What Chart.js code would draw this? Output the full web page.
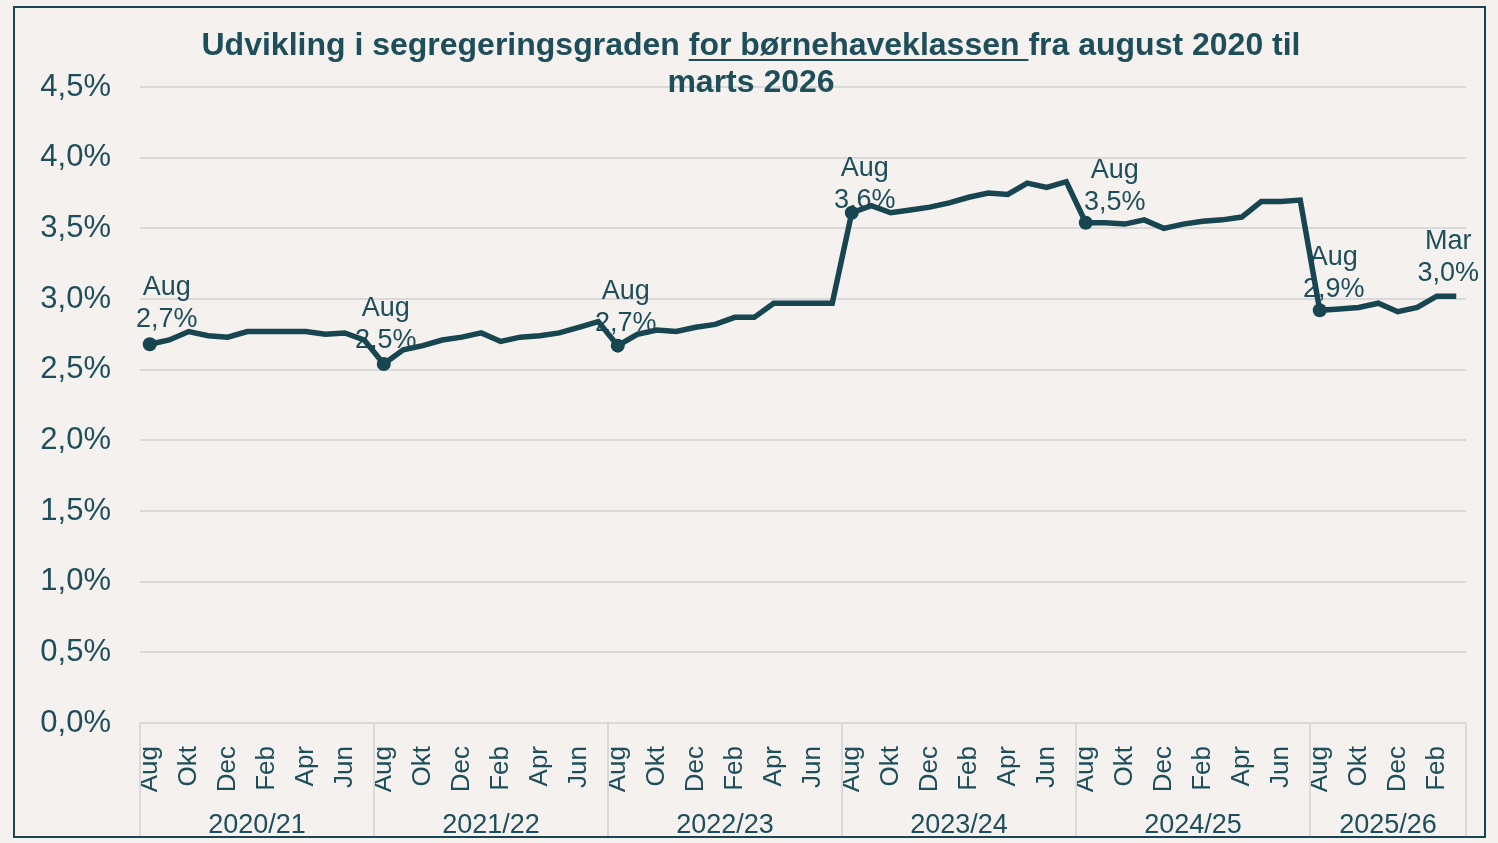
<!DOCTYPE html>
<html lang="da">
<head>
<meta charset="utf-8">
<title>Segregeringsgrad børnehaveklassen</title>
<script src="https://cdn.jsdelivr.net/npm/chart.js@4.4.1/dist/chart.umd.min.js"></script>
<style>
html, body { margin: 0; padding: 0; background: #f4f1ee; }
#wrap { position: relative; width: 1498px; height: 843px; }
#frame { position: absolute; left: 13px; top: 6px; width: 1473px; height: 832px; border: 2px solid #1a4652; box-sizing: border-box; pointer-events: none; }
#title { position: absolute; left: 0; top: 26px; width: 1502px; text-align: center; font: bold 32px "Liberation Sans", Arial, sans-serif; color: #1d4e5a; line-height: 37px; }
#title u { text-decoration-thickness: 2px; text-underline-offset: 4px; }
canvas { position: absolute; left: 0; top: 0; }
</style>
</head>
<body>
<div id="wrap">
  <canvas id="myChart" width="1498" height="843"></canvas>
  <div id="title">Udvikling i segregeringsgraden <u>for børnehaveklassen </u>fra august 2020 til<br>marts 2026</div>
  <div id="frame"></div>
</div>
<script>
// months shown on the axis (every other one gets a label)
const monthNames = ["Aug", "Sep", "Okt", "Nov", "Dec", "Jan", "Feb", "Mar", "Apr", "Maj", "Jun", "Jul"];
const schoolYears = ["2020/21", "2021/22", "2022/23", "2023/24", "2024/25", "2025/26"];
const monthsPerYear = [12, 12, 12, 12, 12, 8];

// segregeringsgrad in percent, Aug 2020 - Mar 2026
const rate2020 = [2.68, 2.71, 2.77, 2.74, 2.73, 2.77, 2.77, 2.77, 2.77, 2.75, 2.76, 2.71];
const rate2021 = [2.54, 2.64, 2.67, 2.71, 2.73, 2.76, 2.70, 2.73, 2.74, 2.76, 2.80, 2.84];
const rate2022 = [2.67, 2.75, 2.78, 2.77, 2.80, 2.82, 2.87, 2.87, 2.97, 2.97, 2.97, 2.97];
const rate2023 = [3.61, 3.66, 3.61, 3.63, 3.65, 3.68, 3.72, 3.75, 3.74, 3.82, 3.79, 3.83];
const rate2024 = [3.54, 3.54, 3.53, 3.56, 3.50, 3.53, 3.55, 3.56, 3.58, 3.69, 3.69, 3.70];
const rate2025 = [2.92, 2.93, 2.94, 2.97, 2.91, 2.94, 3.02, 3.02];

const yTicks = [0, 0.5, 1, 1.5, 2, 2.5, 3, 3.5, 4, 4.5];

// points that get a marker + label
const labelled = [0, 12, 24, 36, 48, 60, 67];
const marked = [0, 12, 24, 36, 48, 60];

const labels = [];
monthsPerYear.forEach(n => {
    for (let m = 0; m < n; m++) labels.push(monthNames[m]);
});
const values = [].concat(rate2020, rate2021, rate2022, rate2023, rate2024, rate2025);

const txtColor = "#1d4e5a";
const lineColor = "#174550";
const fontName = "'Liberation Sans', Arial, sans-serif";

function pct(v) {
    return v.toFixed(1).replace(".", ",") + "%";
}

// label offsets relative to the point (dx, dy of the lower line)
const labelOffset = {
    0: [17, -25], 12: [2, -23], 24: [8, -22], 36: [13, -12],
    48: [29, -20], 60: [14, -21], 67: [-8, -23]
};

const pointLabels = {
    id: "pointLabels",
    beforeDatasetsDraw(chart) {
        const ctx = chart.ctx;
        const meta = chart.getDatasetMeta(0);
        ctx.save();
        ctx.font = "27px " + fontName;
        ctx.fillStyle = txtColor;
        ctx.textAlign = "center";
        ctx.textBaseline = "middle";
        labelled.forEach(i => {
            const pt = meta.data[i];
            const off = labelOffset[i];
            ctx.fillText(labels[i], pt.x + off[0], pt.y + off[1] - 32);
            ctx.fillText(pct(values[i]), pt.x + off[0], pt.y + off[1]);
        });
        ctx.restore();
    }
};

const yearGroups = {
    id: "yearGroups",
    afterDraw(chart) {
        const ctx = chart.ctx;
        const x = chart.scales.x;
        const top = chart.chartArea.bottom;
        const w = (x.right - x.left) / labels.length;
        ctx.save();
        ctx.strokeStyle = "#d9d9d9";
        ctx.lineWidth = 2;
        ctx.font = "27px " + fontName;
        ctx.fillStyle = txtColor;
        ctx.textAlign = "center";
        ctx.textBaseline = "middle";
        let start = 0;
        monthsPerYear.forEach((n, k) => {
            const x0 = x.left + start * w;
            const x1 = x.left + (start + n) * w;
            ctx.beginPath();
            ctx.moveTo(x0, top);
            ctx.lineTo(x0, 838);
            ctx.stroke();
            if (k === monthsPerYear.length - 1) {
                ctx.beginPath();
                ctx.moveTo(x1, top);
                ctx.lineTo(x1, 838);
                ctx.stroke();
            }
            ctx.fillText(schoolYears[k], (x0 + x1) / 2, 826);
            start += n;
        });
        ctx.restore();
    }
};

const config = {
    type: "line",
    data: {
        labels: labels,
        datasets: [{
            data: values,
            borderColor: lineColor,
            backgroundColor: lineColor,
            borderWidth: 5.5,
            tension: 0,
            pointRadius: ctx => marked.includes(ctx.dataIndex) ? 7 : 0,
            pointBorderWidth: 0,
            pointHoverRadius: 0
        }]
    },
    options: {
        responsive: false,
        animation: false,
        events: [],
        layout: { padding: { left: 0, right: 32, top: 87, bottom: 0 } },
        plugins: {
            legend: { display: false },
            title: { display: false },
            tooltip: { enabled: false }
        },
        scales: {
            x: {
                offset: true,
                grid: { display: false },
                border: { display: false },
                ticks: {
                    autoSkip: false,
                    maxRotation: 90,
                    minRotation: 90,
                    padding: 15,
                    color: txtColor,
                    font: { family: fontName, size: 26 },
                    callback: (v, i) => i % 2 === 0 ? labels[i] : ""
                },
                afterFit: s => {
                    s.height = 120;
                    s.paddingLeft = 0;
                    s.paddingRight = 0;
                }
            },
            y: {
                min: 0,
                max: 4.5,
                afterBuildTicks: s => { s.ticks = yTicks.map(v => ({ value: v })); },
                grid: { color: "#d9d9d9", lineWidth: 2, drawTicks: false },
                border: { display: false },
                ticks: {
                    padding: 29,
                    color: txtColor,
                    font: { family: fontName, size: 31 },
                    callback: v => pct(v)
                },
                afterFit: s => { s.width = 140; }
            }
        }
    },
    plugins: [pointLabels, yearGroups]
};

const myChart = new Chart(document.getElementById("myChart"), config);
</script>
</body>
</html>
